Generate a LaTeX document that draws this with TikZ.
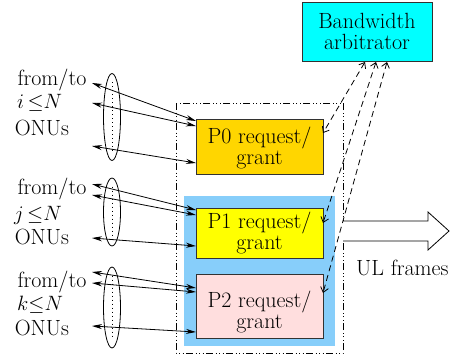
\documentclass[tikz,border=0pt]{standalone}
\usetikzlibrary{arrows.meta,shapes.geometric}
\definecolor{pzero}{RGB}{255,214,0}
\definecolor{pone}{RGB}{255,255,0}
\definecolor{ptwo}{RGB}{255,222,222}
\definecolor{region}{RGB}{135,206,250}
\definecolor{arbfill}{RGB}{0,255,255}
\definecolor{edge}{RGB}{50,50,50}
\tikzset{
  txt/.style={font=\fontsize{22}{20.5}\selectfont, inner sep=0pt},
  pbox/.style={draw=edge, line width=0.8pt, minimum width=127pt, inner sep=0pt, align=center, font=\fontsize{22}{21}\selectfont},
  onu/.style={draw, line width=0.8pt, ellipse, minimum width=17pt, inner sep=0pt},
  link/.style={line width=0.8pt, {Stealth[length=10pt,width=5pt]}-{Stealth[length=10pt,width=5pt]}},
  ctrl/.style={line width=0.8pt, dash pattern=on 6pt off 4pt, {Straight Barb[length=5pt,width=8pt]}-{Straight Barb[length=5pt,width=8pt]}},
  frame/.style={line width=0.8pt, dash pattern=on 7pt off 2.5pt on 1pt off 2.5pt on 1pt off 2.5pt on 1pt off 2.5pt},
  dots/.style={line width=0.8pt, dash pattern=on 1pt off 3pt}
}
\begin{document}
\begin{tikzpicture}[x=1pt,y=-1pt]
\useasboundingbox (0,0) rectangle (457,356);
% blue region and outer frame
\fill[region] (184,196) rectangle (335,346);
\draw[frame] (176,103) rectangle (343,353);
% arbitrator
\node[pbox, fill=arbfill, minimum width=130pt, minimum height=59pt] (arb) at (367,31.5) {Bandwidth\\arbitrator};
% request/grant boxes
\node[pbox, fill=pzero, minimum height=55pt] (P0) at (259.5,146.5) {};
\node[txt, align=center] (P0t) at (259.5,148) {P0 request/\\grant};
\node[pbox, fill=pone, minimum height=50pt] (P1) at (259.5,233) {};
\node[txt, align=center] (P1t) at (259.5,233) {P1 request/\\grant};
\node[pbox, fill=ptwo, minimum height=64pt] (P2) at (259.5,306) {};
\node[txt, align=center] (P2t) at (259.5,312) {P2 request/\\grant};
% UL frames arrow
\draw[line width=0.8pt, fill=white] (343,221) -- (428,221) -- (428,212) -- (449,231) -- (428,250) -- (428,241) -- (343,241);
\node[txt, anchor=west] (ul) at (356,268) {UL frames};
% ONU groups
\node[onu, minimum height=87pt] (e1) at (112,117) {};
\node[onu, minimum height=68pt] (e2) at (112,212) {};
\node[onu, minimum height=81pt] (e3) at (112,307.5) {};
\draw[dots] ([yshift=-9pt]e1.north) -- ([yshift=9pt]e1.south);
\draw[dots] ([yshift=-9pt]e2.north) -- ([yshift=9pt]e2.south);
\draw[dots] ([yshift=-9pt]e3.north) -- ([yshift=9pt]e3.south);
% labels
\node[txt] (f1) at (52,80) {from/to};
\node[txt, anchor=west] (n1) at (17,103) {$i\,{\leq}N$};
\node[txt] (o1) at (42,128) {ONUs};
\node[txt] (f2) at (52,189) {from/to};
\node[txt, anchor=west] (n2) at (14,215) {$j\,{\leq}N$};
\node[txt] (o2) at (42,237) {ONUs};
\node[txt] (f3) at (52,282) {from/to};
\node[txt, anchor=west] (n3) at (17,305) {$k{\leq}N$};
\node[txt] (o3) at (42,328) {ONUs};
% link end points
\coordinate (a1) at (92,83);  \coordinate (b1) at (196,121);
\coordinate (a2) at (92,103); \coordinate (b2) at (196,126);
\coordinate (a3) at (92,146); \coordinate (b3) at (196,163);
\coordinate (a4) at (92,184); \coordinate (b4) at (196,210);
\coordinate (a5) at (92,195); \coordinate (b5) at (196,215);
\coordinate (a6) at (92,238); \coordinate (b6) at (196,246);
\coordinate (a7) at (92,272); \coordinate (b7) at (196,288);
\coordinate (a8) at (92,283); \coordinate (b8) at (196,292);
\coordinate (a9) at (92,326); \coordinate (b9) at (196,332);
\foreach \i in {1,...,9} { \draw[link] (a\i) -- (b\i); }
% control links
\coordinate (c0) at (365,62); \coordinate (d0) at (323,133);
\coordinate (c1) at (376,62); \coordinate (d1) at (323,223);
\coordinate (c2) at (387,62); \coordinate (d2) at (323,293);
\draw[ctrl] (c0) -- (d0);
\draw[ctrl] (c1) -- (d1);
\draw[ctrl] (c2) -- (d2);
\end{tikzpicture}
\end{document}
